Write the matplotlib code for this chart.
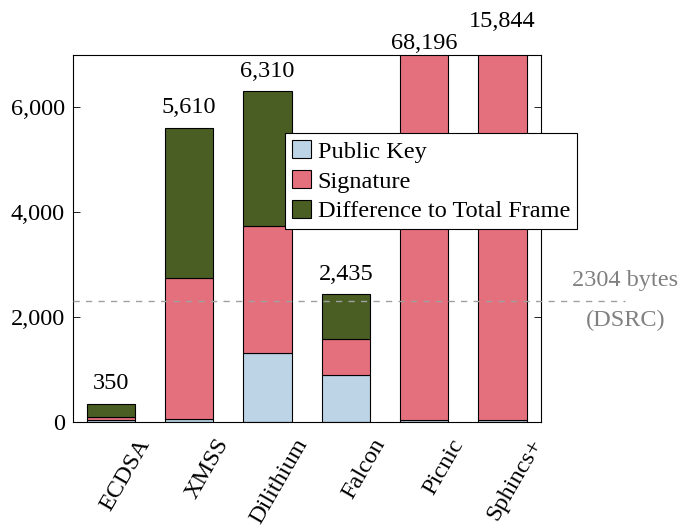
import matplotlib
matplotlib.use("Agg")
import matplotlib.pyplot as plt
from matplotlib.lines import Line2D
from matplotlib.ticker import FuncFormatter
import matplotlib.transforms as mtransforms
import numpy as np

# Sizes in bytes per scheme
schemes = ["ECDSA", "XMSS", "Dilithium", "Falcon", "Picnic", "Sphincs+"]
public_key = [33, 64, 1312, 897, 33, 32]
signature = [64, 2692, 2420, 690, 34036, 7856]
total_frame = [350, 5610, 6310, 2435, 68196, 15844]
dsrc_limit = 2304
y_ticks = [0, 2000, 4000, 6000]

difference = [t - p - s for t, p, s in zip(total_frame, public_key, signature)]

plt.rcParams["font.family"] = ["Liberation Serif", "DejaVu Serif"]
FS = 17.5

c_pk = "#bcd4e6"
c_sig = "#e5707d"
c_diff = "#4a5e23"

fig = plt.figure(figsize=(6.92, 5.27), dpi=100)
W, H = 692, 527
left, right, top, bottom = 73, 541, 55, 422
ax = fig.add_axes([left / W, 1 - bottom / H, (right - left) / W, (bottom - top) / H])

x = np.arange(len(schemes))
w = 0.615
ax.bar(x, public_key, w, color=c_pk, edgecolor="black", linewidth=0.8, label="Public Key")
ax.bar(x, signature, w, bottom=public_key, color=c_sig, edgecolor="black",
       linewidth=0.8, label="Signature")
base2 = [p + s for p, s in zip(public_key, signature)]
ax.bar(x, difference, w, bottom=base2, color=c_diff, edgecolor="black",
       linewidth=0.8, label="Difference to Total Frame")

ymax = 7000
ax.set_ylim(0, ymax)
ax.set_xlim(-0.48, 5.49)

# Value labels over each bar (clipped bars get theirs at the top edge)
extra_offsets = {4: 4.5, 5: 20.5}
for i, t in enumerate(total_frame):
    txt = f"{t:,}"
    if t > ymax:
        ax.annotate(txt, (x[i], ymax), xytext=(0, extra_offsets.get(i, 6)),
                    textcoords="offset points", ha="center", va="baseline",
                    fontsize=FS, annotation_clip=False)
    else:
        ax.annotate(txt, (x[i], t), xytext=(0, 10.5), textcoords="offset points",
                    ha="center", va="baseline", fontsize=FS)

# DSRC frame size limit
trans = ax.get_yaxis_transform()
ax.add_line(Line2D([0, 1.18], [dsrc_limit, dsrc_limit], transform=trans,
                   color="#a0a0a0", linestyle=(0, (4.5, 4.5)), linewidth=1.0,
                   clip_on=False, zorder=3))
ax.text(1.18, dsrc_limit + 290, "2304 bytes", transform=trans, ha="center",
        va="baseline", fontsize=FS, color="#808080")
ax.text(1.18, dsrc_limit - 470, "(DSRC)", transform=trans, ha="center",
        va="baseline", fontsize=FS, color="#808080")

ax.set_yticks(y_ticks)
ax.yaxis.set_major_formatter(FuncFormatter(lambda v, p: f"{int(v):,}"))
ax.tick_params(axis="y", direction="in", length=5, width=0.6, left=True,
               right=True, labelsize=FS, pad=6)
ax.set_xticks(x)
ax.set_xticklabels(schemes, rotation=60, ha="right", va="top",
                   rotation_mode="anchor", fontsize=FS)
ax.tick_params(axis="x", length=0, pad=0)
shift = mtransforms.ScaledTranslation(26 / 100, -13 / 100, fig.dpi_scale_trans)
for lab in ax.get_xticklabels():
    lab.set_transform(lab.get_transform() + shift)
for s in ax.spines.values():
    s.set_linewidth(0.8)

leg = ax.legend(loc="upper left", bbox_to_anchor=(0.453, 0.787), fontsize=FS,
                frameon=True, fancybox=False, edgecolor="black", framealpha=1,
                handlelength=0.75, handleheight=0.75, handletextpad=0.3,
                borderpad=0.3, labelspacing=0.3, borderaxespad=0)
leg.get_frame().set_linewidth(0.8)

fig.savefig("out.png", dpi=100)
